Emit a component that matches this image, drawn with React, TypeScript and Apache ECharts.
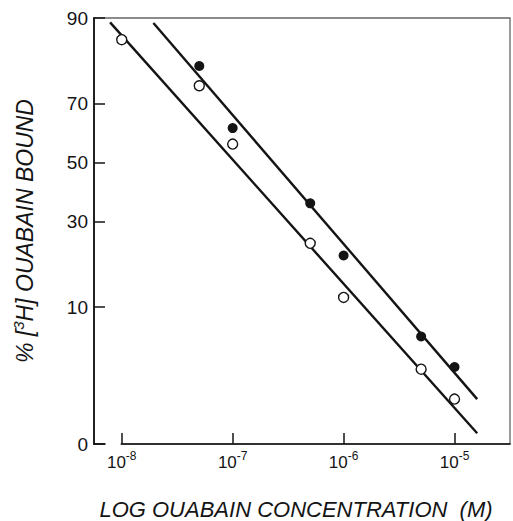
import React, { useEffect, useRef } from "react";
import * as echarts from "echarts";

// ---- data ----
const openConc = [1e-8, 5e-8, 1e-7, 5e-7, 1e-6, 5e-6, 1e-5];
const openBound = [86.2, 75.2, 56.5, 23.7, 11.6, 3.35, 1.8];
const filledConc = [5e-8, 1e-7, 5e-7, 1e-6, 5e-6, 1e-5];
const filledBound = [80.4, 62.0, 35.9, 20.5, 6.15, 3.5];
const upperLineConc = [1.93e-8, 1.6e-5];
const upperLineBound = [89.2, 1.8];
const lowerLineConc = [7.85e-9, 1.6e-5];
const lowerLineBound = [89.3, 0.82];
const xTickExponents = [-8, -7, -6, -5];
const yTickLabels = [0, 10, 30, 50, 70, 90];
const xMinExp = -8.25;
const xMaxExp = -4.5;
const yFloorPercent = 0.63; // where the "0" label sits (axis floor)
const yTopPercent = 90;

// inverse normal CDF (probit) for the probability-scale y axis
function probit(p: number): number {
  const a = [-3.969683028665376e1, 2.209460984245205e2, -2.759285104469687e2, 1.38357751867269e2, -3.066479806614716e1, 2.506628277459239];
  const b = [-5.447609879822406e1, 1.615858368580409e2, -1.556989798598866e2, 6.680131188771972e1, -1.328068155288572e1];
  const c = [-7.784894002430293e-3, -3.223964580411365e-1, -2.400758277161838, -2.549732539343734, 4.374664141464968, 2.938163982698783];
  const d = [7.784695709041462e-3, 3.224671290700398e-1, 2.445134137142996, 3.754408661907416];
  const plow = 0.02425;
  const phigh = 1 - plow;
  if (p < plow) {
    const q = Math.sqrt(-2 * Math.log(p));
    return (((((c[0] * q + c[1]) * q + c[2]) * q + c[3]) * q + c[4]) * q + c[5]) / ((((d[0] * q + d[1]) * q + d[2]) * q + d[3]) * q + 1);
  }
  if (p <= phigh) {
    const q = p - 0.5;
    const r = q * q;
    return ((((((a[0] * r + a[1]) * r + a[2]) * r + a[3]) * r + a[4]) * r + a[5]) * q) / (((((b[0] * r + b[1]) * r + b[2]) * r + b[3]) * r + b[4]) * r + 1);
  }
  const q = Math.sqrt(-2 * Math.log(1 - p));
  return -(((((c[0] * q + c[1]) * q + c[2]) * q + c[3]) * q + c[4]) * q + c[5]) / ((((d[0] * q + d[1]) * q + d[2]) * q + d[3]) * q + 1);
}

const yFloor = probit(yFloorPercent / 100);
const yTop = probit(yTopPercent / 100);
const yPos = (pct: number) => (pct <= 0 ? yFloor : probit(pct / 100));
const yTickValues = yTickLabels.map(yPos);
const xTickValues = xTickExponents.map((e) => Math.pow(10, e));

const INK = "#141414";
const FONT = "Liberation Sans";

export default function App() {
  const ref = useRef<HTMLDivElement>(null);
  useEffect(() => {
    if (!ref.current) return;
    const chart = echarts.init(ref.current, undefined, { renderer: "svg" });
    const option: any = {
      animation: false,
      backgroundColor: "#fff",
      grid: {
        left: 94,
        right: 3,
        top: 18,
        bottom: 77,
        show: true,
        borderColor: "#666",
        borderWidth: 1.3,
        containLabel: false,
        outerBoundsMode: "none",
      },
      xAxis: {
        type: "log",
        logBase: 10,
        min: Math.pow(10, xMinExp),
        max: Math.pow(10, xMaxExp),
        axisLine: { show: true, onZero: false, lineStyle: { color: INK, width: 1.5 } },
        axisTick: { show: true, inside: true, length: 11, customValues: xTickValues, lineStyle: { color: INK, width: 1.5 } },
        minorTick: { show: false },
        splitLine: { show: false },
        axisLabel: {
          customValues: xTickValues,
          margin: 6,
          fontSize: 17,
          fontFamily: FONT,
          color: INK,
          formatter: (v: number) => `{b|10}{s|${Math.round(Math.log10(v))}}`,
          rich: {
            b: { fontSize: 17, fontFamily: FONT, color: INK, lineHeight: 24 },
            s: { fontSize: 12, fontFamily: FONT, color: INK, lineHeight: 12, verticalAlign: "top" },
          },
        },
        name: "LOG OUABAIN CONCENTRATION  (M)",
        nameLocation: "middle",
        nameGap: 54,
        nameTextStyle: { fontSize: 22, fontStyle: "italic", fontFamily: FONT, color: INK, padding: [0, 12, 0, 0] },
      },
      yAxis: {
        type: "value",
        min: yFloor,
        max: yTop,
        axisLine: { show: true, onZero: false, lineStyle: { color: INK, width: 1.8 } },
        axisTick: { show: true, inside: true, length: 11, customValues: yTickValues, lineStyle: { color: INK, width: 1.5 } },
        splitLine: { show: false },
        axisLabel: {
          customValues: yTickValues,
          margin: 6,
          fontSize: 19,
          fontFamily: FONT,
          color: INK,
          formatter: (v: number) => {
            const i = yTickValues.findIndex((t) => Math.abs(t - v) < 1e-6);
            return i >= 0 ? String(yTickLabels[i]) : "";
          },
        },
        name: "{t|% [}{s|3}{t|H] OUABAIN BOUND}",
        nameLocation: "middle",
        nameGap: 56,
        nameTextStyle: {
          fontSize: 23,
          fontStyle: "italic",
          fontFamily: FONT,
          color: INK,
          rich: {
            t: { fontSize: 23, fontStyle: "italic", fontFamily: FONT, color: INK, lineHeight: 27 },
            s: { fontSize: 15, fontStyle: "italic", fontFamily: FONT, color: INK, lineHeight: 15, verticalAlign: "top" },
          },
        },
      },
      series: [
        {
          type: "line",
          name: "upper fit",
          data: upperLineConc.map((x, i) => [x, yPos(upperLineBound[i])]),
          showSymbol: false,
          symbol: "none",
          lineStyle: { color: INK, width: 2.4 },
          z: 2,
        },
        {
          type: "line",
          name: "lower fit",
          data: lowerLineConc.map((x, i) => [x, yPos(lowerLineBound[i])]),
          showSymbol: false,
          symbol: "none",
          lineStyle: { color: INK, width: 2.4 },
          z: 2,
        },
        {
          type: "scatter",
          name: "filled",
          data: filledConc.map((x, i) => [x, yPos(filledBound[i])]),
          symbol: "circle",
          symbolSize: 10,
          itemStyle: { color: INK, opacity: 1 },
          z: 3,
        },
        {
          type: "scatter",
          name: "open",
          data: openConc.map((x, i) => [x, yPos(openBound[i])]),
          symbol: "circle",
          symbolSize: 10,
          itemStyle: { color: "#fff", borderColor: INK, borderWidth: 1.4, opacity: 1 },
          z: 3,
        },
      ],
    };
    chart.setOption(option);
    // break in the x axis between the "0" tick and the first decade tick
    const x0 = chart.convertToPixel({ xAxisIndex: 0 }, xTickValues[0]) as number;
    const yb = chart.convertToPixel({ yAxisIndex: 0 }, yFloor) as number;
    const left = 94 + 11.5;
    chart.setOption({
      graphic: [
        {
          type: "rect",
          z: 100,
          silent: true,
          shape: { x: left, y: yb - 2.5, width: Math.max(0, x0 - 1 - left), height: 5 },
          style: { fill: "#fff" },
        },
      ],
    });
    return () => chart.dispose();
  }, []);
  return <div ref={ref} style={{ position: "fixed", left: 0, top: 0, width: 513, height: 521 }} />;
}
